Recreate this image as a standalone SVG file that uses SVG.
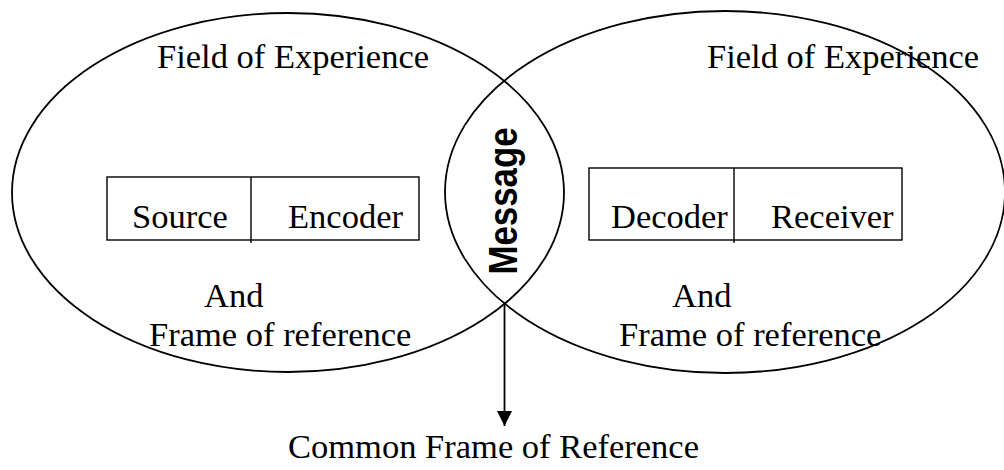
<svg xmlns="http://www.w3.org/2000/svg" width="1004" height="470" viewBox="0 0 1004 470">
  <style>
    .field { fill: none; stroke: #000; stroke-width: 1.8; }
    .box { fill: none; stroke: #000; stroke-width: 1.4; }
    .lbl { font-family: "Liberation Serif", "Times New Roman", serif; font-size: 34.5px; fill: #000; }
    .msg { font-family: "Liberation Sans", Arial, sans-serif; font-weight: bold; font-size: 40px; fill: #000; }
    .conn { stroke: #000; stroke-width: 1.8; fill: none; }
  </style>
  <defs>
    <marker id="arrowhead" markerUnits="userSpaceOnUse" markerWidth="16" markerHeight="16" refX="15" refY="8" orient="auto">
      <path d="M0,0.5 L15,8 L0,15.5 Z" fill="#000"/>
    </marker>
  </defs>

  <rect width="1004" height="470" fill="#fff"/>

  <!-- sender's field of experience -->
  <g id="sender-field">
    <ellipse class="field" cx="288" cy="192.5" rx="276" ry="179.5"/>
    <text class="lbl" x="157" y="68">Field of Experience</text>
    <text class="lbl" x="204" y="307">And</text>
    <text class="lbl" x="149" y="346">Frame of reference</text>
  </g>

  <!-- receiver's field of experience -->
  <g id="receiver-field">
    <ellipse class="field" cx="725" cy="192" rx="280" ry="181"/>
    <text class="lbl" x="707" y="68">Field of Experience</text>
    <text class="lbl" x="672" y="307">And</text>
    <text class="lbl" x="619" y="346">Frame of reference</text>
  </g>

  <!-- source / encoder -->
  <g id="source-encoder">
    <rect class="box" x="107" y="177" width="312" height="63"/>
    <line class="box" x1="251" y1="177" x2="251" y2="243"/>
    <text class="lbl" x="132" y="228">Source</text>
    <text class="lbl" x="288" y="228">Encoder</text>
  </g>

  <!-- decoder / receiver -->
  <g id="decoder-receiver">
    <rect class="box" x="589" y="168" width="313" height="72"/>
    <line class="box" x1="734" y1="168" x2="734" y2="243"/>
    <text class="lbl" x="611" y="228">Decoder</text>
    <text class="lbl" x="771" y="228">Receiver</text>
  </g>

  <!-- shared message in the overlap -->
  <g id="message">
    <text class="msg" transform="translate(517,201) rotate(-90)" text-anchor="middle" textLength="147" lengthAdjust="spacingAndGlyphs">Message</text>
  </g>

  <!-- common frame of reference -->
  <g id="common-frame">
    <text class="lbl" x="288" y="458">Common Frame of Reference</text>
  </g>

  <g id="connectors">
    <line class="conn" x1="504.5" y1="304" x2="504.5" y2="426" marker-end="url(#arrowhead)"/>
  </g>
</svg>
